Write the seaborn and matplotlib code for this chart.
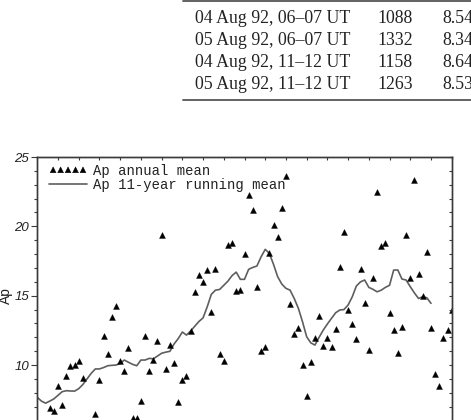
import matplotlib
matplotlib.use("Agg")
import matplotlib.pyplot as plt
import seaborn as sns
import pandas as pd
from matplotlib.lines import Line2D
from matplotlib.ticker import MultipleLocator, FixedLocator
from matplotlib.font_manager import FontProperties

# ---------------- data ----------------
table_dates = ["04 Aug 92, 06\u201307 UT", "05 Aug 92, 06\u201307 UT",
               "04 Aug 92, 11\u201312 UT", "05 Aug 92, 11\u201312 UT"]
table_col2 = ["1088", "1332", "1158", "1263"]
table_col3 = ["8.54", "8.34", "8.64", "8.53"]

ann_years = [1903, 1904, 1905, 1906, 1907, 1908, 1909, 1910, 1911, 1914,
             1915, 1916, 1917, 1918, 1919, 1920, 1921, 1922, 1923, 1924,
             1925, 1926, 1927, 1928, 1929, 1930, 1931, 1932, 1933, 1934,
             1935, 1936, 1937, 1938, 1939, 1940, 1941, 1942, 1943, 1944,
             1945, 1946, 1947, 1948, 1949, 1950, 1951, 1952, 1953, 1954,
             1955, 1956, 1957, 1958, 1959, 1960, 1961, 1962, 1963, 1964,
             1965, 1966, 1967, 1968, 1969, 1970, 1971, 1972, 1973, 1974,
             1975, 1976, 1977, 1978, 1979, 1980, 1981, 1982, 1983, 1984,
             1985, 1986, 1987, 1988, 1989, 1990, 1991, 1992, 1993, 1994,
             1995, 1996, 1997, 1998, 1999, 2000]
ann_ap = [6.88, 6.70, 8.50, 7.10, 9.20, 9.93, 9.98, 10.30, 9.10, 6.50,
          8.90, 12.09, 10.80, 13.50, 14.28, 10.30, 9.60, 11.20, 6.20, 6.20,
          7.40, 12.09, 9.60, 10.36, 11.70, 19.40, 9.70, 11.44, 10.12, 7.30,
          8.94, 9.20, 12.45, 15.24, 16.50, 16.00, 16.85, 13.80, 16.90, 10.80,
          10.30, 18.65, 18.77, 15.36, 15.40, 18.00, 22.28, 21.20, 15.60, 11.03,
          11.30, 18.10, 20.10, 19.25, 21.35, 23.60, 14.38, 12.26, 12.67, 9.98,
          7.77, 10.24, 11.97, 13.53, 11.39, 11.95, 11.32, 12.60, 17.04, 19.57,
          13.97, 12.93, 11.87, 16.92, 14.47, 11.08, 16.27, 22.50, 18.58, 18.80,
          13.75, 12.55, 10.90, 12.72, 19.40, 16.27, 23.36, 16.54, 15.00, 18.15,
          12.65, 9.33, 8.49, 11.97, 12.55, 13.97]

run_years = list(range(1900, 1996))
run_ap = [7.67, 7.40, 7.25, 7.40, 7.56, 7.82, 8.08, 8.15, 8.13, 8.12,
          8.30, 8.60, 9.00, 9.40, 9.72, 9.72, 9.82, 9.95, 9.98, 10.00,
          10.12, 10.36, 10.20, 10.05, 9.95, 10.36, 10.36, 10.48, 10.45, 10.65,
          10.85, 10.93, 10.99, 11.52, 11.90, 12.38, 12.16, 12.45, 12.80, 13.14,
          13.40, 14.20, 15.10, 15.40, 15.45, 15.75, 16.05, 16.45, 16.70, 16.18,
          16.18, 16.90, 17.04, 17.14, 17.80, 18.34, 18.05, 17.26, 16.37, 15.84,
          15.53, 15.40, 14.80, 14.09, 13.12, 12.04, 11.60, 11.44, 12.00, 12.52,
          12.96, 13.37, 13.77, 13.97, 14.00, 14.33, 14.92, 15.70, 16.00, 16.13,
          15.60, 15.46, 15.28, 15.40, 15.60, 15.75, 16.85, 16.85, 16.20, 16.13,
          15.65, 15.20, 14.80, 14.92, 14.85, 14.45]

y_major_ticks = [10, 15, 20, 25]

label_ann = "Ap annual mean"
label_run = "Ap 11-year running mean"

# ---------------- style ----------------
sns.set_theme(style="ticks")
plt.rcParams["font.family"] = ["Liberation Sans", "DejaVu Sans"]

W, H = 471, 420
fig = plt.figure(figsize=(W / 100, H / 100), dpi=100)

# ---------------- table fragment at top ----------------
tcol = "#222222"
rule = "#555555"
fig.add_artist(Line2D([183 / W, 1.0], [1 - 0.8 / H, 1 - 0.8 / H],
                      transform=fig.transFigure, color=rule, lw=1.3))
fig.add_artist(Line2D([183 / W, 1.0], [1 - 100 / H, 1 - 100 / H],
                      transform=fig.transFigure, color=rule, lw=1.3))
for i, (d, c2, c3) in enumerate(zip(table_dates, table_col2, table_col3)):
    yb = 1 - (23 + 22 * i) / H
    kw = dict(family="Liberation Serif", fontsize=12.8, color=tcol, va="baseline", ha="left")
    fig.text(195 / W, yb, d, **kw)
    fig.text(377 / W, yb, c2, **kw)
    fig.text(442 / W, yb, c3, **kw)

# ---------------- chart ----------------
ax_left, ax_right = 37.3, 451.7
ax_top, ax_bot = 157.0, 434.4   # value 25 and value 5 (bottom is cropped by figure)
ax = fig.add_axes([ax_left / W, 1 - ax_bot / H, (ax_right - ax_left) / W, (ax_bot - ax_top) / H])

df_ann = pd.DataFrame({"year": ann_years, "Ap": ann_ap})
df_run = pd.DataFrame({"year": run_years, "Ap": run_ap})

sns.lineplot(data=df_run, x="year", y="Ap", ax=ax, color="#5e5e5e", lw=1.2,
             label=label_run, zorder=2)
sns.scatterplot(data=df_ann, x="year", y="Ap", ax=ax, marker="^", s=18,
                color="black", edgecolor="black", linewidth=0.3,
                label=label_ann, zorder=3)

ax.set_xlim(1900, 2000)
ax.set_ylim(5, 25)
ax.set_xlabel("")
ax.set_ylabel("Ap", fontsize=10, labelpad=1, color="#222222")

spc = "#3a3a3a"
for s in ax.spines.values():
    s.set_color(spc)
    s.set_linewidth(1.0)

ax.xaxis.set_major_locator(MultipleLocator(5))
ax.tick_params(axis="x", which="both", top=True, bottom=True, direction="in",
               length=2.4, width=0.8, color=spc, labelbottom=False, labeltop=False)

ax.yaxis.set_major_locator(FixedLocator(y_major_ticks))
ax.yaxis.set_minor_locator(MultipleLocator(1))
ax.tick_params(axis="y", which="major", left=True, right=False, direction="out",
               length=4.3, width=0.8, color=spc, pad=1.7, labelsize=9.5)
ax.tick_params(axis="y", which="minor", left=True, right=False, direction="out",
               length=2.4, width=0.8, color=spc)
for t in ax.get_yticklabels():
    t.set_fontstyle("italic")
    t.set_color("#222222")

ax2 = ax.twinx()
ax2.set_ylim(5, 25)
ax2.yaxis.set_major_locator(MultipleLocator(5))
ax2.yaxis.set_minor_locator(MultipleLocator(1))
ax2.tick_params(axis="y", which="both", right=True, left=False, direction="in",
                length=2.4, width=0.8, color=spc, labelright=False)
for s in ax2.spines.values():
    s.set_color(spc)
    s.set_linewidth(1.0)
ax2.set_ylabel("")

# legend: triangles first, then line
h, l = ax.get_legend_handles_labels()
order = [l.index(label_ann), l.index(label_run)]
leg = ax.legend([h[i] for i in order], [l[i] for i in order],
                loc="upper left", bbox_to_anchor=(0, 1.018), borderaxespad=0,
                borderpad=0.84, frameon=False, scatterpoints=5,
                scatteryoffsets=[0.5], handlelength=2.75, handletextpad=0.45,
                labelspacing=0.0,
                prop=FontProperties(family="Liberation Mono", size=10))
for t in leg.get_texts():
    t.set_color("#222222")

fig.savefig("out.png", dpi=100)
